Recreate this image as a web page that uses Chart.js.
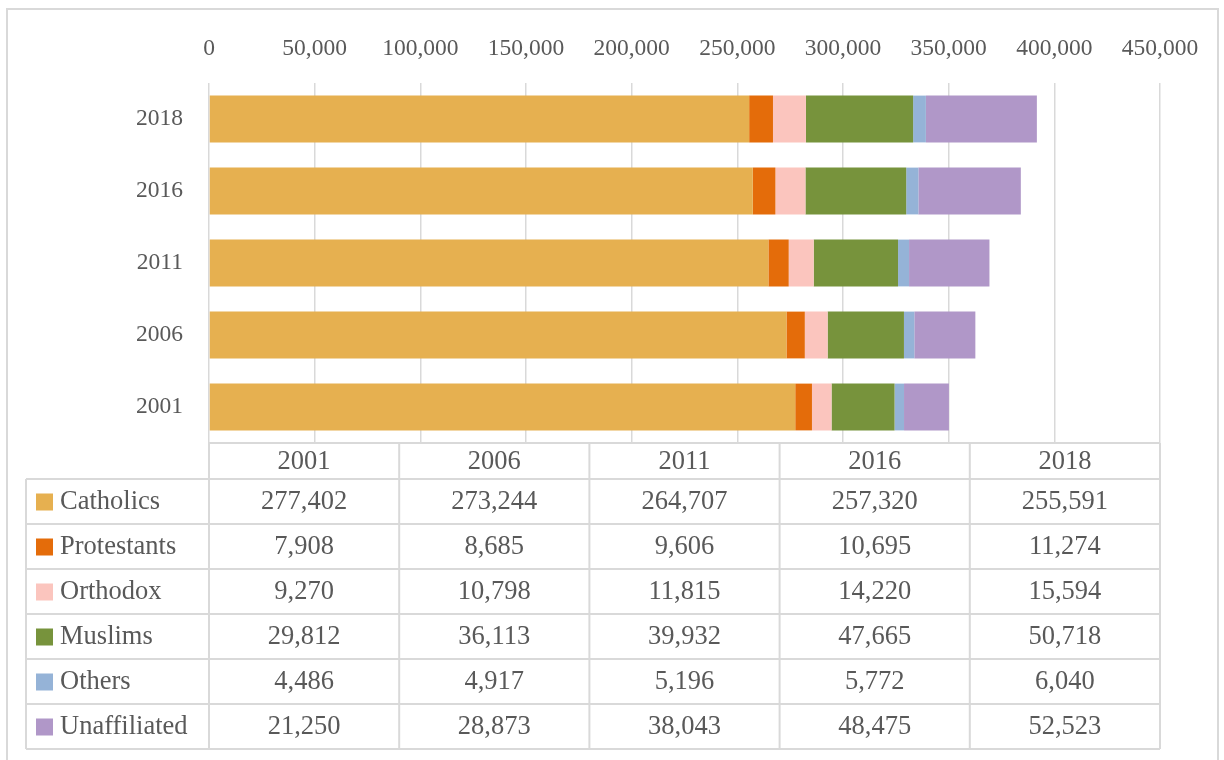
<!DOCTYPE html>
<html>
<head>
<meta charset="utf-8">
<script src="https://cdn.jsdelivr.net/npm/chart.js@4.4.1/dist/chart.umd.min.js"></script>
<style>
    html, body { margin: 0; padding: 0; background: #fff; overflow: hidden; }
    #wrap { position: relative; width: 1224px; height: 760px; }
    #frame { position: absolute; left: 6px; top: 8px; width: 1209px; height: 800px; border: 2px solid #d9d9d9; pointer-events: none; }
    canvas { position: absolute; left: 0; top: 0; }
</style>
</head>
<body>
<div id="wrap">
    <canvas id="chart" width="1224" height="760"></canvas>
    <div id="frame"></div>
</div>
<script>
// --- data ---
const years = ['2001', '2006', '2011', '2016', '2018'];
const catholics    = [277402, 273244, 264707, 257320, 255591];
const protestants  = [7908, 8685, 9606, 10695, 11274];
const orthodox     = [9270, 10798, 11815, 14220, 15594];
const muslims      = [29812, 36113, 39932, 47665, 50718];
const others       = [4486, 4917, 5196, 5772, 6040];
const unaffiliated = [21250, 28873, 38043, 48475, 52523];
const xTicks = [0, 50000, 100000, 150000, 200000, 250000, 300000, 350000, 400000, 450000];

const seriesNames  = ['Catholics', 'Protestants', 'Orthodox', 'Muslims', 'Others', 'Unaffiliated'];
const seriesValues = [catholics, protestants, orthodox, muslims, others, unaffiliated];
const seriesColors = ['#E6B050', '#E46C0A', '#FBC5BE', '#77933C', '#95B3D7', '#B097C8'];

const FONT = '"Liberation Serif", "Times New Roman", serif';
const TEXT = '#595959';
const LINE = '#d9d9d9';
const fmt = v => v.toLocaleString('en-US');

// data table drawn under the plot, columns follow the chart area
const tablePlugin = {
    id: 'dataTable',
    afterDraw(chart) {
        const { ctx, chartArea } = chart;
        const left = chartArea.left, right = chartArea.right, top = chartArea.bottom;
        const colW = (right - left) / years.length;
        const headH = 36, rowH = 45, legL = 26;
        const bottom = top + headH + rowH * seriesNames.length;

        ctx.save();
        ctx.strokeStyle = LINE;
        ctx.lineWidth = 2;
        const line = (x1, y1, x2, y2) => { ctx.beginPath(); ctx.moveTo(x1, y1); ctx.lineTo(x2, y2); ctx.stroke(); };

        line(left, top, right, top);
        for (let r = 0; r <= seriesNames.length; r++) {
            const y = top + headH + r * rowH;
            line(legL, y, right, y);
        }
        for (let c = 0; c <= years.length; c++) {
            const x = left + c * colW;
            line(x, top, x, bottom);
        }
        line(legL, top + headH, legL, bottom);

        ctx.fillStyle = TEXT;
        ctx.font = '26.5px ' + FONT;
        ctx.textAlign = 'center';
        ctx.textBaseline = 'middle';
        years.forEach((y, c) => ctx.fillText(y, left + (c + 0.5) * colW, top + headH / 2 + 1));

        seriesNames.forEach((name, r) => {
            const cy = top + headH + (r + 0.5) * rowH + 1;
            ctx.fillStyle = seriesColors[r];
            ctx.fillRect(36, cy - 9, 17, 17);
            ctx.fillStyle = TEXT;
            ctx.textAlign = 'left';
            ctx.fillText(name, 60, cy);
            ctx.textAlign = 'center';
            seriesValues[r].forEach((v, c) => ctx.fillText(fmt(v), left + (c + 0.5) * colW, cy));
        });
        ctx.restore();
    }
};

new Chart(document.getElementById('chart').getContext('2d'), {
    type: 'bar',
    data: {
        labels: years,
        datasets: seriesNames.map((name, i) => ({
            label: name,
            data: seriesValues[i],
            backgroundColor: seriesColors[i],
            borderWidth: 0,
            categoryPercentage: 1,
            barPercentage: 0.65
        }))
    },
    options: {
        indexAxis: 'y',
        responsive: false,
        devicePixelRatio: 1,
        animation: false,
        layout: { padding: { left: 0, top: 0, right: 64, bottom: 317 } },
        plugins: { legend: { display: false }, tooltip: { enabled: false } },
        scales: {
            x: {
                position: 'top',
                stacked: true,
                min: 0,
                max: 450000,
                afterFit: s => { s.height = 83; },
                afterBuildTicks: s => { s.ticks = xTicks.map(v => ({ value: v })); },
                grid: { color: LINE, lineWidth: 1.5, drawTicks: false },
                border: { display: false },
                ticks: {
                    padding: 20,
                    color: TEXT,
                    font: { family: FONT, size: 23.5 },
                    maxRotation: 0,
                    callback: v => fmt(v)
                }
            },
            y: {
                stacked: true,
                reverse: true,
                afterFit: s => { s.width = 209; },
                grid: { display: false, drawTicks: false },
                border: { display: false },
                ticks: {
                    padding: 26,
                    color: TEXT,
                    font: { family: FONT, size: 23.5 }
                }
            }
        }
    },
    plugins: [tablePlugin]
});
</script>
</body>
</html>
